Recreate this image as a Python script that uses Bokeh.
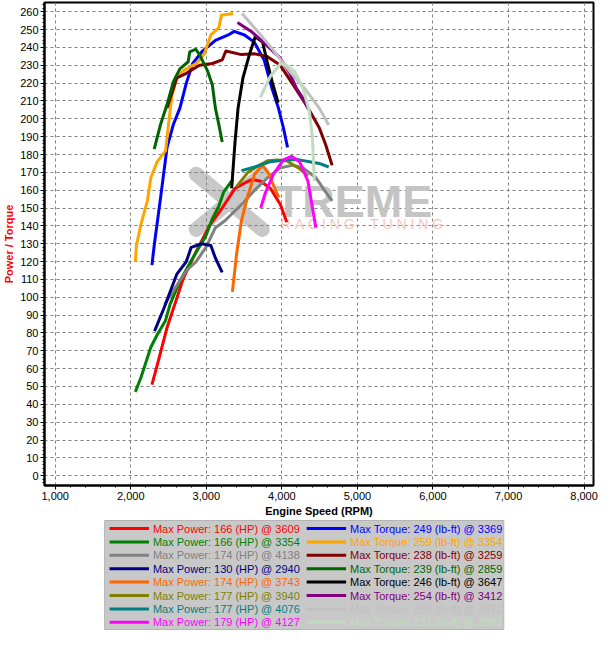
from bokeh.plotting import figure
from bokeh.layouts import column
from bokeh.models import Range1d, SingleIntervalTicker, NumeralTickFormatter, Label
from bokeh.core.properties import value
from bokeh.embed import file_html
from bokeh.resources import INLINE

FONT = "Liberation Sans"

# ---------------- data ----------------
# Power curves (HP)
red_rpm = [2280, 2350, 2480, 2590, 2690, 2870, 3040, 3210, 3380, 3550, 3609, 3720, 3850, 3980, 4065]
red_hp = [51, 62, 83, 97, 110, 126, 140, 150, 161, 165, 166, 165, 161, 152, 142]

green_rpm = [2060, 2135, 2265, 2350, 2460, 2520, 2650, 2820, 2990, 3080, 3165, 3230, 3315, 3354]
green_hp = [47, 55, 72, 79, 87, 96, 109, 122, 134, 144, 151, 159, 164, 166]

gray_rpm = [2450, 2600, 2740, 2865, 2995, 3120, 3250, 3465, 3640, 3810, 3980, 4138, 4280, 4450, 4580, 4665]
gray_hp = [96, 106, 115, 120, 128, 139, 143, 152, 160, 167, 172.5, 174, 172.5, 167, 159, 154]

navy_rpm = [2315, 2440, 2610, 2735, 2800, 2940, 3060, 3120, 3210]
navy_hp = [81, 94, 113, 120, 128, 130, 129, 122, 114]

orng_rpm = [3345, 3400, 3465, 3550, 3640, 3743, 3830, 3915, 3960]
orng_hp = [103, 124, 143, 157, 169, 174, 169, 160, 156]

olive_rpm = [3400, 3550, 3700, 3810, 3940, 4065, 4235, 4345]
olive_hp = [162, 170, 174, 176.5, 177, 176.5, 172, 168]

teal_rpm = [3465, 3640, 3850, 4076, 4230, 4365, 4495, 4620]
teal_hp = [171, 173, 176, 177, 177, 176, 175, 173]

mag_rpm = [3720, 3785, 3895, 4020, 4127, 4235, 4345, 4405, 4450]
mag_hp = [150, 159, 169.5, 177, 179, 176, 165, 150, 139]

# Torque curves (lb-ft)
blue_rpm = [2280, 2310, 2395, 2480, 2565, 2650, 2735, 2820, 2950, 3120, 3290, 3369, 3505, 3635, 3765, 3870, 3955, 4020, 4075]
blue_tq = [118, 129, 156, 184, 197, 206, 220, 231, 238, 244, 247, 249, 247, 243, 233, 217, 206, 195, 184]

gold_rpm = [2060, 2075, 2135, 2220, 2265, 2350, 2460, 2500, 2545, 2610, 2695, 2865, 2970, 3060, 3165, 3200, 3354]
gold_tq = [120, 129, 141, 154, 167, 176, 182, 197, 213, 223, 227, 231, 236, 247, 251, 258, 259]

maroon_rpm = [2480, 2610, 2735, 2910, 3080, 3210, 3259, 3465, 3635, 3805, 3980, 4150, 4320, 4495, 4580, 4665]
maroon_tq = [206, 223, 225.5, 230, 231, 233, 238, 236, 236.5, 235, 230, 219, 208, 195, 185.5, 174]

dkgreen_rpm = [2310, 2395, 2480, 2565, 2650, 2760, 2780, 2859, 2910, 3015, 3080, 3120, 3165, 3210]
dkgreen_tq = [183, 197, 208, 221, 228, 232, 237.5, 239, 236, 227, 219, 206, 197, 187]

black_rpm = [3335, 3380, 3420, 3485, 3570, 3647, 3745, 3805, 3870, 3950]
black_tq = [161, 187, 206, 223, 236, 246, 243, 232, 221, 209]

purple_rpm = [3412, 3595, 3805, 3980, 4105, 4195, 4280, 4345]
purple_tq = [254, 249, 241, 234, 225.5, 217, 211.5, 206]

silver_rpm = [3472, 3680, 3895, 4105, 4320, 4495, 4620]
silver_tq = [259, 249, 238, 226.5, 216, 206, 196.5]

pale_rpm = [3715, 3850, 3983, 4065, 4170, 4280, 4365, 4405, 4430]
pale_tq = [212, 224, 231, 230, 226.5, 217, 204, 189, 165]

# legend values
power_peak = [166, 166, 174, 130, 174, 177, 177, 179]
power_at = [3609, 3354, 4138, 2940, 3743, 3940, 4076, 4127]
torque_peak = [249, 259, 238, 239, 246, 254, 259, 231]
torque_at = [3369, 3354, 3259, 2859, 3647, 3412, 3472, 3983]

power_colors = ["#ff0000", "#008000", "#808080", "#000080", "#ff6600", "#808000", "#008080", "#ff00ff"]
torque_colors = ["#0000ff", "#ffa500", "#800000", "#006400", "#000000", "#800080", "#c0c0c0", "#c0dcc0"]

power_series = [(red_rpm, red_hp), (green_rpm, green_hp), (gray_rpm, gray_hp), (navy_rpm, navy_hp),
                (orng_rpm, orng_hp), (olive_rpm, olive_hp), (teal_rpm, teal_hp), (mag_rpm, mag_hp)]
torque_series = [(blue_rpm, blue_tq), (gold_rpm, gold_tq), (maroon_rpm, maroon_tq), (dkgreen_rpm, dkgreen_tq),
                 (black_rpm, black_tq), (purple_rpm, purple_tq), (silver_rpm, silver_tq), (pale_rpm, pale_tq)]

# ---------------- main chart ----------------
p = figure(width=599, height=519, x_range=Range1d(858, 8125), y_range=Range1d(-5.5, 265.2),
           output_backend="svg", toolbar_location=None,
           min_border_left=2, min_border_right=6, min_border_top=2, min_border_bottom=0)
p.background_fill_color = "white"
p.border_fill_color = "white"
p.outline_line_color = "black"
p.outline_line_width = 2

# watermark (decoration)
p.segment(x0=[2867, 2867], y0=[169, 138], x1=[3741, 3741], y1=[138, 169],
          line_color="#c8c8c8", line_width=15, line_cap="round", level="underlay")
p.add_layout(Label(x=3905, y=153.5, text="TREME", text_font=FONT, text_font_size="45px",
                   text_font_style="bold", text_color="#c4c4c4", text_baseline="alphabetic",
                   level="underlay"))
NB = "\u00a0"
p.add_layout(Label(x=3984, y=141, text=NB.join("RACING") + NB * 4 + NB.join("TUNING"), text_font=FONT,
                   text_font_size="14px", text_color="#f4c6be", text_baseline="alphabetic",
                   level="underlay"))

for (xs, ys), c in zip(power_series, power_colors):
    p.line(xs, ys, line_color=c, line_width=3, line_join="round")
for (xs, ys), c in zip(torque_series, torque_colors):
    p.line(xs, ys, line_color=c, line_width=3, line_join="round")

p.xaxis.ticker = SingleIntervalTicker(interval=1000, num_minor_ticks=5)
p.yaxis.ticker = SingleIntervalTicker(interval=10, num_minor_ticks=5)
p.xaxis.formatter = NumeralTickFormatter(format="0,0")
for ax in (p.xaxis[0], p.yaxis[0]):
    ax.axis_line_color = "black"
    ax.axis_line_width = 2
    ax.major_tick_line_color = "black"
    ax.minor_tick_line_color = "black"
    ax.major_tick_out = 4
    ax.major_tick_in = 0
    ax.minor_tick_out = 2
    ax.minor_tick_in = 0
    ax.major_label_text_font = FONT
    ax.major_label_text_font_size = "11px"
    ax.major_label_text_color = "black"
    ax.axis_label_text_font = FONT
    ax.axis_label_text_font_size = "11px"
    ax.axis_label_text_font_style = "bold"
    ax.major_label_standoff = 2
    ax.axis_label_standoff = 2
p.xaxis.axis_label = "Engine Speed (RPM)"
p.xaxis.axis_label_text_color = "black"
p.yaxis.axis_label = "Power / Torque"
p.yaxis.axis_label_text_color = "#ff0000"

for g in (p.xgrid[0], p.ygrid[0]):
    g.grid_line_color = "#808080"
    g.grid_line_dash = "3 3"
    g.grid_line_width = 1

# ---------------- legend panel ----------------
# the column aligns this panel's frame with the chart frame (page x ~42..599),
# so its x range is expressed in page pixels across that frame
lg = figure(width=599, height=111, x_range=Range1d(42, 599), y_range=Range1d(111, 0),
            output_backend="svg", toolbar_location=None,
            min_border=0, min_border_left=0, min_border_right=0, min_border_top=0, min_border_bottom=0)
lg.axis.visible = False
lg.grid.visible = False
lg.outline_line_color = None
lg.background_fill_color = "white"
lg.border_fill_color = "white"
lg.quad(left=[103], right=[508], top=[1], bottom=[110], fill_color="#c8c8c8",
        line_color="#b4b4b4", line_width=1)

rows = [9 + 13.4 * i for i in range(8)]
power_labels = [f"Max Power: {v} (HP) @ {r}" for v, r in zip(power_peak, power_at)]
torque_labels = [f"Max Torque: {v} (lb-ft) @ {r}" for v, r in zip(torque_peak, torque_at)]

lg.segment(x0=[108] * 8, x1=[148] * 8, y0=rows, y1=rows, line_color=power_colors, line_width=3)
lg.segment(x0=[308] * 8, x1=[348] * 8, y0=rows, y1=rows, line_color=torque_colors, line_width=3)
lg.text(x=[152] * 8, y=rows, text=power_labels, text_color=power_colors,
        text_font=value(FONT), text_font_size="11px", text_baseline="middle")
lg.text(x=[352] * 8, y=rows, text=torque_labels, text_color=torque_colors,
        text_font=value(FONT), text_font_size="11px", text_baseline="middle")

layout = column(p, lg, spacing=0)
open("out.html", "w").write(file_html(layout, INLINE))
